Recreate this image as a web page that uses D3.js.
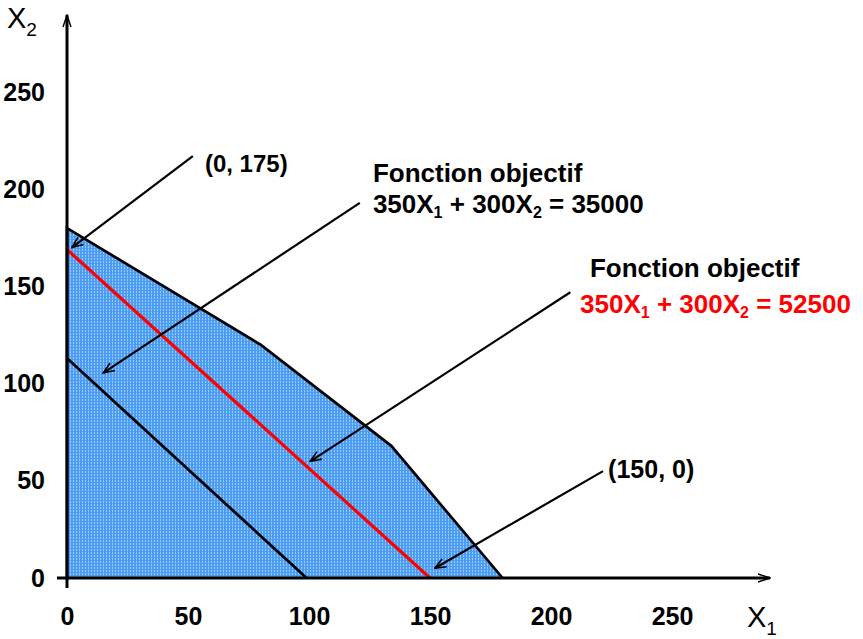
<!DOCTYPE html>
<html>
<head>
<meta charset="utf-8">
<script src="https://cdn.jsdelivr.net/npm/d3@7"></script>
<style>
  body { margin: 0; background: #fff; }
  svg { display: block; font-family: "Liberation Sans", Arial, sans-serif; }
</style>
</head>
<body>
<div id="chart"></div>
<script>
// ticks on both axes
const xTicks = [0, 50, 100, 150, 200, 250];
const yTicks = [0, 50, 100, 150, 200, 250];

// feasible region (x1, x2)
const regionX = [0, 0, 80, 134, 180];
const regionY = [0, 180, 120, 68, 0];

// objective lines
const line35000 = [[0, 113], [99, 0]];
const line52500 = [[0, 169], [150, 0]];

// arrows: from -> to, data units
const arrows = [
    { from: [52, 217], to: [2, 170] },
    { from: [121, 193], to: [15, 105.5] },
    { from: [208, 147], to: [100.5, 60] },
    { from: [221.5, 55], to: [152, 5] }
];

// annotation texts; parts = [text, isSubscript]
const annotations = [
    { at: [57, 209], size: 24, color: '#000', parts: [['(0, 175)', false]] },
    { at: [223.6, 51.4], size: 25, color: '#000', parts: [['(150, 0)', false]] },
    { at: [126.4, 203.7], size: 26, color: '#000', parts: [['Fonction objectif', false]] },
    { at: [126.4, 187.8], size: 26, color: '#000', parts: [['350X', false], ['1', true], [' + 300X', false], ['2', true], [' = 35000', false]] },
    { at: [216.1, 154.8], size: 26, color: '#000', parts: [['Fonction objectif', false]] },
    { at: [212, 136.3], size: 26, color: '#ff0000', parts: [['350X', false], ['1', true], [' + 300X', false], ['2', true], [' = 52500', false]] }
];

const width = 863, height = 639;

const svg = d3.select('#chart')
    .append('svg')
    .attr('width', width)
    .attr('height', height);

const x = d3.scaleLinear().domain([0, 250]).range([67, 672]);
const y = d3.scaleLinear().domain([0, 250]).range([578, 92]);

const defs = svg.append('defs');

// dotted blue fill
const pat = defs.append('pattern')
    .attr('id', 'dots')
    .attr('patternUnits', 'userSpaceOnUse')
    .attr('width', 3)
    .attr('height', 3);
pat.append('rect').attr('width', 3).attr('height', 3).attr('fill', '#4a9cf4');
pat.append('rect').attr('x', 1).attr('y', 0).attr('width', 1).attr('height', 2).attr('fill', '#9fcbfa');

defs.append('marker')
    .attr('id', 'head')
    .attr('markerUnits', 'userSpaceOnUse')
    .attr('viewBox', '-1 -6 13 12')
    .attr('markerWidth', 13)
    .attr('markerHeight', 12)
    .attr('refX', 11)
    .attr('refY', 0)
    .attr('orient', 'auto')
    .append('path')
    .attr('d', 'M0,-4.5 L11,0 L0,4.5')
    .attr('fill', 'none')
    .attr('stroke', '#000')
    .attr('stroke-width', 1.6);

defs.append('marker')
    .attr('id', 'axisHead')
    .attr('markerUnits', 'userSpaceOnUse')
    .attr('viewBox', '-1 -6 14 12')
    .attr('markerWidth', 14)
    .attr('markerHeight', 12)
    .attr('refX', 12)
    .attr('refY', 0)
    .attr('orient', 'auto')
    .append('path')
    .attr('d', 'M0,-4 L12,0 L0,4')
    .attr('fill', 'none')
    .attr('stroke', '#000')
    .attr('stroke-width', 1.4);

// region
svg.append('path')
    .datum(d3.zip(regionX, regionY))
    .attr('d', d3.line().x(d => x(d[0])).y(d => y(d[1])))
    .attr('fill', 'url(#dots)')
    .attr('stroke', '#000')
    .attr('stroke-width', 2.7)
    .attr('stroke-linejoin', 'miter');

svg.append('path')
    .datum(line35000)
    .attr('d', d3.line().x(d => x(d[0])).y(d => y(d[1])))
    .attr('stroke', '#000')
    .attr('stroke-width', 2.8)
    .attr('fill', 'none');

svg.append('path')
    .datum(line52500)
    .attr('d', d3.line().x(d => x(d[0])).y(d => y(d[1])))
    .attr('stroke', '#ff0000')
    .attr('stroke-width', 3.2)
    .attr('fill', 'none');

// axes lines with arrowheads
svg.append('line')
    .attr('x1', x(0) - 10).attr('y1', y(0))
    .attr('x2', 770).attr('y2', y(0))
    .attr('stroke', '#000').attr('stroke-width', 3)
    .attr('marker-end', 'url(#axisHead)');
svg.append('line')
    .attr('x1', x(0)).attr('y1', y(0) + 10)
    .attr('x2', x(0)).attr('y2', 15)
    .attr('stroke', '#000').attr('stroke-width', 3)
    .attr('marker-end', 'url(#axisHead)');

const xAxis = svg.append('g')
    .attr('transform', 'translate(0,' + y(0) + ')')
    .call(d3.axisBottom(x).tickValues(xTicks).tickSize(0).tickPadding(29));
const yAxis = svg.append('g')
    .attr('transform', 'translate(' + x(0) + ',0)')
    .call(d3.axisLeft(y).tickValues(yTicks).tickSize(0).tickPadding(22));
[xAxis, yAxis].forEach(g => {
    g.select('.domain').remove();
    g.selectAll('text')
        .attr('font-family', '"Liberation Sans", Arial, sans-serif')
        .attr('font-size', 25)
        .attr('font-weight', 'bold')
        .attr('fill', '#000');
});

// arrows
svg.selectAll('line.arrow')
    .data(arrows)
    .join('line')
    .attr('class', 'arrow')
    .attr('x1', d => x(d.from[0])).attr('y1', d => y(d.from[1]))
    .attr('x2', d => x(d.to[0])).attr('y2', d => y(d.to[1]))
    .attr('stroke', '#000')
    .attr('stroke-width', 2.2)
    .attr('marker-end', 'url(#head)');

// annotation texts, subscripts shifted down and back up
annotations.forEach(a => {
    const t = svg.append('text')
        .attr('x', x(a.at[0]))
        .attr('y', y(a.at[1]))
        .attr('font-size', a.size)
        .attr('font-weight', 'bold')
        .attr('fill', a.color);
    let shift = 0;
    a.parts.forEach(p => {
        const target = p[1] ? 5 : 0;
        t.append('tspan')
            .attr('font-size', p[1] ? Math.round(a.size * 0.6) : a.size)
            .attr('dy', target - shift)
            .text(p[0]);
        shift = target;
    });
});

// axis titles
const t2 = svg.append('text').attr('x', 7).attr('y', 28).attr('font-size', 29);
t2.append('tspan').text('X');
t2.append('tspan').attr('font-size', 19).attr('dy', 8).text('2');

const t1 = svg.append('text').attr('x', 747).attr('y', 627).attr('font-size', 29);
t1.append('tspan').text('X');
t1.append('tspan').attr('font-size', 19).attr('dy', 8).text('1');
</script>
</body>
</html>
